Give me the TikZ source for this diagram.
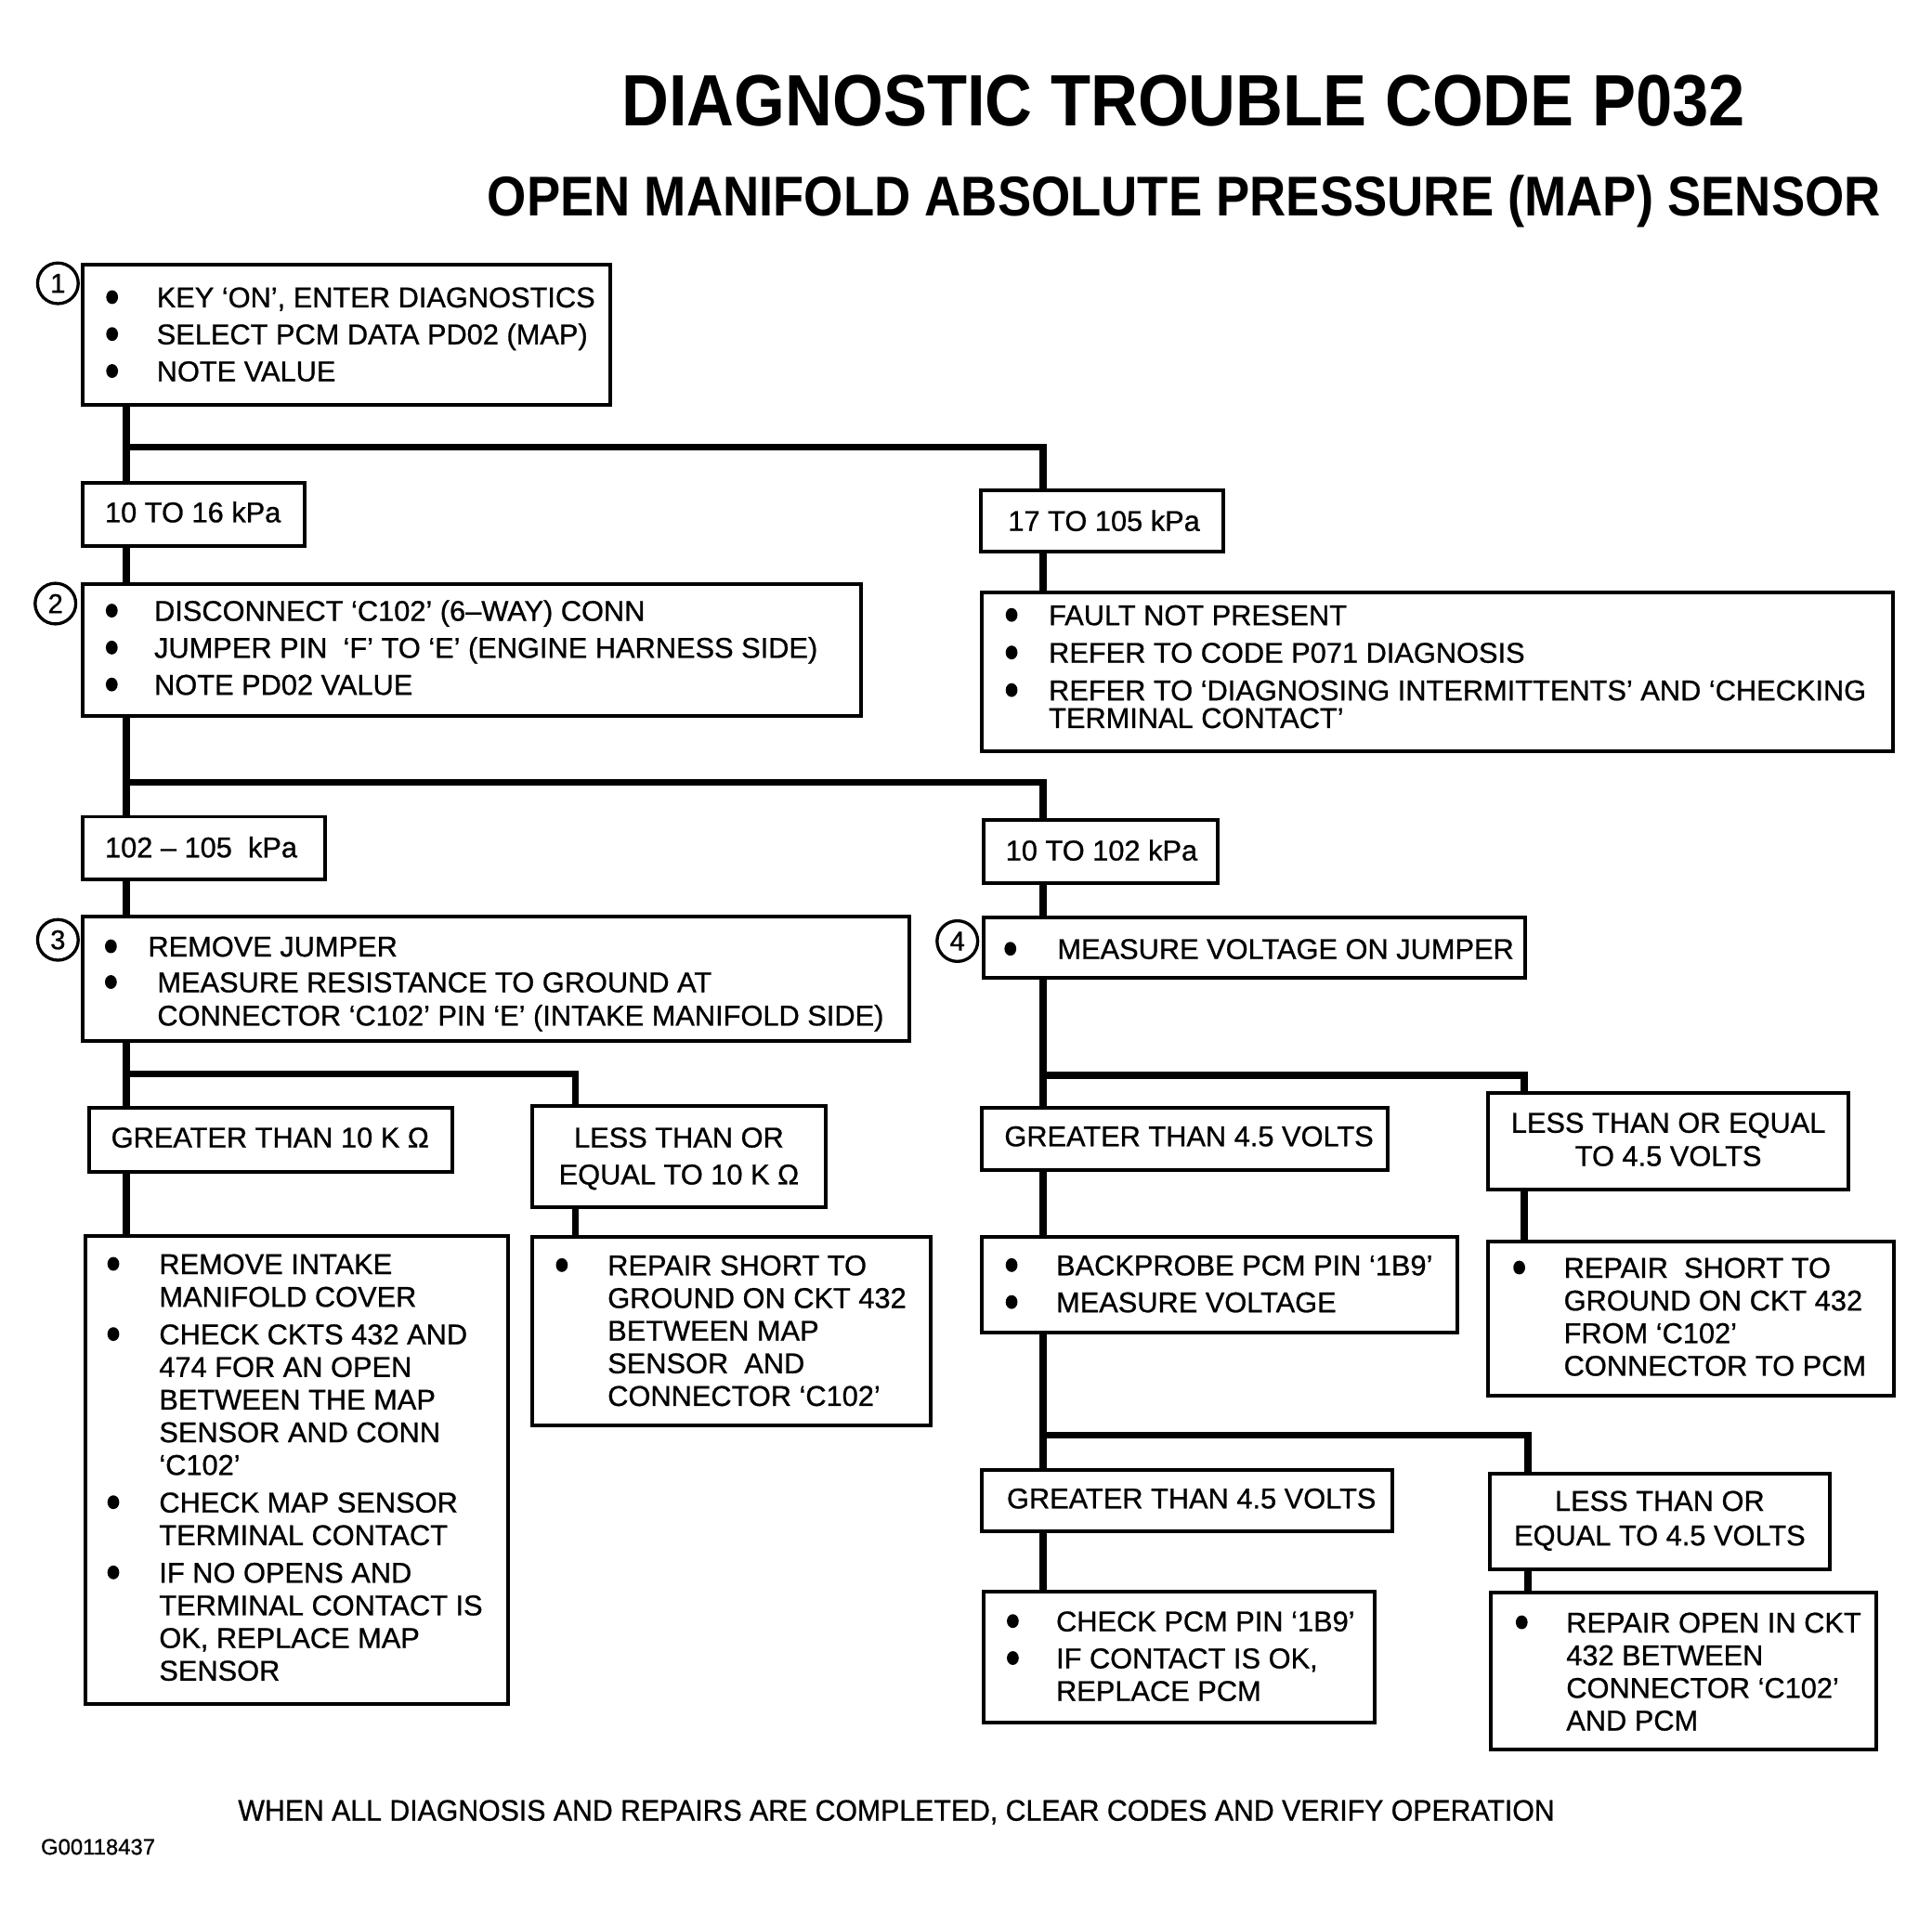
\documentclass[tikz,border=0pt]{standalone}
\usepackage{fontspec}
\setmainfont{Liberation Sans}[FakeBold=0.8]
\newfontfamily\ttlfont{Liberation Sans}[FakeStretch=0.9]
\newfontfamily\ftrfont{Liberation Sans}[FakeStretch=0.95, FakeBold=0.8]
\usetikzlibrary{fit}
\newcommand\bl{\tikz[baseline=0pt]\fill (0pt,8.3pt) ellipse (4.8pt and 5.6pt);}
\newcommand\BT[1]{\begin{tabular}[t]{@{}p{#1}@{}l@{}}}
\newcommand\ET{\end{tabular}}
\newcommand\CT{\begin{tabular}[t]{@{}c@{}}}
\tikzset{
  box/.style={draw, line width=3pt, inner sep=0pt},
  conn/.style={line width=5.5pt},
  txt/.style={inner sep=0pt, anchor=base west, font=\fontsize{23.2}{26.5}\selectfont},
  ctxt/.style={inner sep=0pt, anchor=base, font=\fontsize{23.2}{26.5}\selectfont},
  num/.style={draw, circle, line width=2.5pt, minimum size=33pt, inner sep=0pt, font=\fontsize{22}{22}\selectfont}
}
\begin{document}
\begin{tikzpicture}[x=1pt, y=-1pt]
\useasboundingbox (0,0) rectangle (1568,1562);

% titles
\node[inner sep=0pt, anchor=base, font=\ttlfont\bfseries\fontsize{59}{59}\selectfont] (title) at (960.5,102) {DIAGNOSTIC TROUBLE CODE P032};
\node[inner sep=0pt, anchor=base, font=\ttlfont\bfseries\fontsize{45.5}{45.5}\selectfont] (subtitle) at (961,175.5) {OPEN MANIFOLD ABSOLUTE PRESSURE (MAP) SENSOR};

% boxes
\node[box, fit={(67,215) (495,329)}] (b1) {};
\node[box, fit={(67,392) (247,443)}] (k1) {};
\node[box, fit={(796,398) (993,448)}] (k2) {};
\node[box, fit={(67,474) (699,581)}] (b2) {};
\node[box, fit={(797,481) (1536,610)}] (r1) {};
\node[box, fit={(67,663) (264,714)}] (k3) {};
\node[box, fit={(798,666) (988,717)}] (k4) {};
\node[box, fit={(67,744) (738,845)}] (b3) {};
\node[box, fit={(798,745) (1238,794)}] (b4) {};
\node[box, fit={(72,899) (367,951)}] (k5) {};
\node[box, fit={(432,898) (670,980)}] (k6) {};
\node[box, fit={(797,899) (1126,950)}] (k7) {};
\node[box, fit={(1208,887) (1500,966)}] (k8) {};
\node[box, fit={(69,1003) (412,1383)}] (b5) {};
\node[box, fit={(432,1004) (755,1157)}] (b6) {};
\node[box, fit={(797,1004) (1183,1082)}] (b7) {};
\node[box, fit={(1208,1008) (1537,1133)}] (b8) {};
\node[box, fit={(797,1193) (1130,1243)}] (k9) {};
\node[box, fit={(1209,1196) (1485,1274)}] (k10) {};
\node[box, fit={(798,1292) (1116,1398)}] (b9) {};
\node[box, fit={(1210,1293) (1523,1420)}] (b10) {};

% step numbers
\node[num] (n1) at (47,230) {1};
\node[num] (n2) at (45,490) {2};
\node[num] (n3) at (47,763) {3};
\node[num] (n4) at (777,764) {4};

% connectors
\coordinate (xL) at (102.5,0);
\coordinate (xR) at (846.5,0);
\coordinate (xM) at (467,0);
\coordinate (xF1) at (1237,0);
\coordinate (xF2) at (1240,0);
\coordinate (jA) at (102.5,363);
\coordinate (jB) at (102.5,635);
\coordinate (jC) at (102.5,872);
\coordinate (jD) at (846.5,873);
\coordinate (jE) at (846.5,1165);
\draw[conn] (b1.south -| xL) -- (k1.north -| xL);
\draw[conn] (jA) -| (k2.north -| xR);
\draw[conn] (k1.south -| xL) -- (b2.north -| xL);
\draw[conn] (k2.south -| xR) -- (r1.north -| xR);
\draw[conn] (b2.south -| xL) -- (k3.north -| xL);
\draw[conn] (jB) -| (k4.north -| xR);
\draw[conn] (k3.south -| xL) -- (b3.north -| xL);
\draw[conn] (k4.south -| xR) -- (b4.north -| xR);
\draw[conn] (b3.south -| xL) -- (k5.north -| xL);
\draw[conn] (jC) -| (k6.north -| xM);
\draw[conn] (b4.south -| xR) -- (k7.north -| xR);
\draw[conn] (jD) -| (k8.north -| xF1);
\draw[conn] (k5.south -| xL) -- (b5.north -| xL);
\draw[conn] (k6.south -| xM) -- (b6.north -| xM);
\draw[conn] (k7.south -| xR) -- (b7.north -| xR);
\draw[conn] (k8.south -| xF1) -- (b8.north -| xF1);
\draw[conn] (b7.south -| xR) -- (k9.north -| xR);
\draw[conn] (jE) -| (k10.north -| xF2);
\draw[conn] (k9.south -| xR) -- (b9.north -| xR);
\draw[conn] (k10.south -| xF2) -- (b10.north -| xF2);

% texts
\node[txt] (t1) at (86,249.5) {\BT{41pt}\bl & KEY ‘ON’, ENTER DIAGNOSTICS\\[3.5pt]
  \bl & SELECT PCM DATA PD02 (MAP)\\[3.5pt]
  \bl & NOTE VALUE\ET};
\node[txt] (tk1) at (85,424) {10 TO 16 kPa};
\node[txt] (tk2) at (818,431) {17 TO 105 kPa};
\node[txt] (t2) at (85.7,504) {\BT{39.3pt}\bl & DISCONNECT ‘C102’ (6–WAY) CONN\\[3.5pt]
  \bl & JUMPER PIN \ ‘F’ TO ‘E’ (ENGINE HARNESS SIDE)\\[3.5pt]
  \bl & NOTE PD02 VALUE\ET};
\node[txt] (tr1) at (816,507.5) {\BT{35pt}\bl & FAULT NOT PRESENT\\[4pt]
  \bl & REFER TO CODE P071 DIAGNOSIS\\[4pt]
  \bl & REFER TO ‘DIAGNOSING INTERMITTENTS’ AND ‘CHECKING\\[-4pt]
  & TERMINAL CONTACT’\ET};
\node[txt] (tk3) at (85,696) {102 – 105 \ kPa};
\node[txt] (tk4) at (816,698.5) {10 TO 102 kPa};
\node[txt] (t3) at (85,776.5) {\BT{35pt}\bl & REMOVE JUMPER\\[2.5pt]
  \bl & \hspace{7.5pt}MEASURE RESISTANCE TO GROUND AT\\[0.5pt]
  & \hspace{7.5pt}CONNECTOR ‘C102’ PIN ‘E’ (INTAKE MANIFOLD SIDE)\ET};
\node[txt] (t4) at (815,778.5) {\BT{43pt}\bl & MEASURE VOLTAGE ON JUMPER\ET};
\node[txt] (tk5) at (90,931.5) {GREATER THAN 10 K Ω};
\node[ctxt] (tk6) at (551,931.5) {\CT LESS THAN OR\\[3.5pt] EQUAL TO 10 K Ω\ET};
\node[txt] (tk7) at (815,930.5) {GREATER THAN 4.5 VOLTS};
\node[ctxt] (tk8) at (1354,919.5) {\CT LESS THAN OR EQUAL\\[0.5pt] TO 4.5 VOLTS\ET};
\node[txt] (t5) at (87,1034.3) {\BT{42pt}\bl & REMOVE INTAKE\\
  & MANIFOLD COVER\\[4pt]
  \bl & CHECK CKTS 432 AND\\
  & 474 FOR AN OPEN\\
  & BETWEEN THE MAP\\
  & SENSOR AND CONN\\
  & ‘C102’\\[4pt]
  \bl & CHECK MAP SENSOR\\
  & TERMINAL CONTACT\\[4pt]
  \bl & IF NO OPENS AND\\
  & TERMINAL CONTACT IS\\
  & OK, REPLACE MAP\\
  & SENSOR\ET};
\node[txt] (t6) at (451,1035.3) {\BT{42pt}\bl & REPAIR SHORT TO\\
  & GROUND ON CKT 432\\
  & BETWEEN MAP\\
  & SENSOR \ AND\\
  & CONNECTOR ‘C102’\ET};
\node[txt] (t7) at (816,1035.3) {\BT{41pt}\bl & BACKPROBE PCM PIN ‘1B9’\\[3.5pt]
  \bl & MEASURE VOLTAGE\ET};
\node[txt] (t8) at (1228,1037.3) {\BT{41pt}\bl & REPAIR \ SHORT TO\\
  & GROUND ON CKT 432\\
  & FROM ‘C102’\\
  & CONNECTOR TO PCM\ET};
\node[txt] (tk9) at (817,1224.5) {GREATER THAN 4.5 VOLTS};
\node[ctxt] (tk10) at (1347,1226.5) {\CT LESS THAN OR\\[1.5pt] EQUAL TO 4.5 VOLTS\ET};
\node[txt] (t9) at (817,1324.3) {\BT{40pt}\bl & CHECK PCM PIN ‘1B9’\\[3.5pt]
  \bl & IF CONTACT IS OK,\\
  & REPLACE PCM\ET};
\node[txt] (t10) at (1230,1325.3) {\BT{41pt}\bl & REPAIR OPEN IN CKT\\
  & 432 BETWEEN\\
  & CONNECTOR ‘C102’\\
  & AND PCM\ET};

% footer
\node[inner sep=0pt, anchor=base, font=\ftrfont\fontsize{24}{24}\selectfont] (footer) at (727.5,1478) {WHEN ALL DIAGNOSIS AND REPAIRS ARE COMPLETED, CLEAR CODES AND VERIFY OPERATION};
\node[inner sep=0pt, anchor=base west, font=\fontsize{18}{18}\selectfont] (fig) at (33,1505.5) {G00118437};
\end{tikzpicture}
\end{document}
